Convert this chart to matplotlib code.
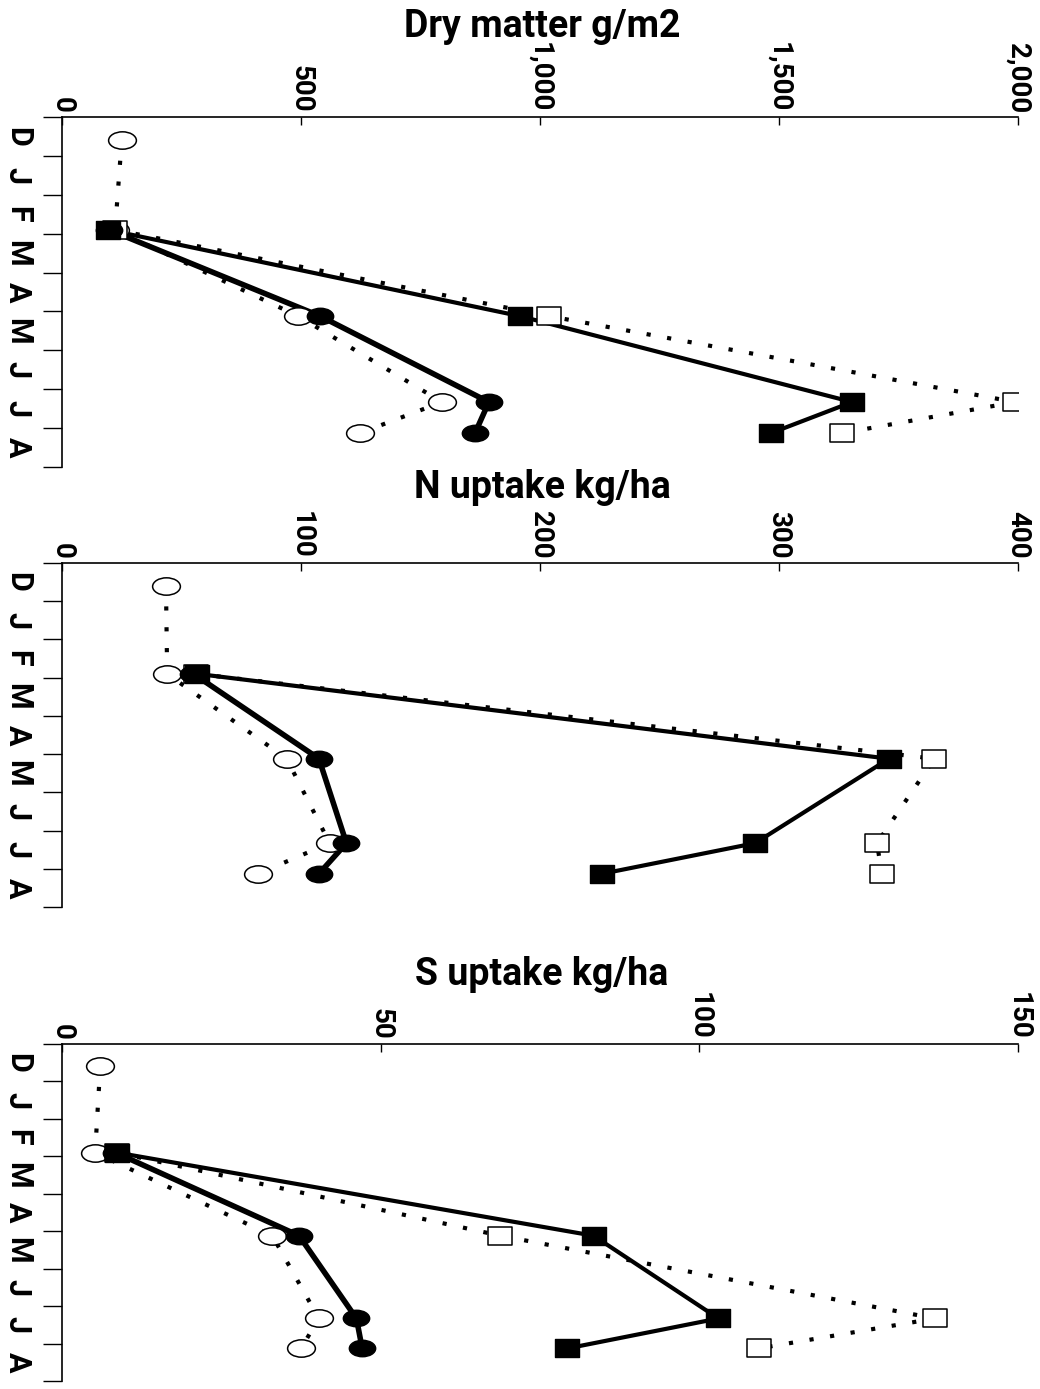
import matplotlib
matplotlib.use("Agg")
import matplotlib.pyplot as plt
from matplotlib.path import Path
from matplotlib.ticker import FixedLocator, FuncFormatter
import matplotlib.transforms as mtransforms

plt.rcParams['font.family'] = ['Roboto', 'DejaVu Sans']
plt.rcParams['font.weight'] = 'bold'

# Sampling dates, in months counted from 1 December
month_labels = ["D", "J", "F", "M", "A", "M", "J", "J", "A"]
dates_all = [0.59, 2.9, 5.12, 7.33, 8.13]   # open circles also have the December sample
dates = [2.9, 5.12, 7.33, 8.13]

# Dry matter g/m2
dm_open_circle = [125, 111, 494, 795, 623]
dm_filled_circle = [98, 540, 893, 864]
dm_filled_square = [96, 958, 1653, 1483]
dm_open_square = [111, 1019, 1994, 1632]

# N uptake kg/ha
n_open_circle = [43.5, 44, 94, 112, 82]
n_filled_circle = [55, 107.5, 119, 107.5]
n_filled_square = [56.5, 346, 290, 226]
n_open_square = [56, 365, 341, 343]

# S uptake kg/ha
s_open_circle = [6.0, 5.2, 33, 40.3, 37.5]
s_filled_circle = [8.4, 37.2, 46.2, 47.1]
s_filled_square = [8.6, 83.4, 103, 79.3]
s_open_square = [8.6, 68.8, 137, 109.3]

titles = ["Dry matter g/m2", "N uptake kg/ha", "S uptake kg/ha"]
x_max = [2000, 400, 150]
x_step = [500, 100, 50]

# flattened markers
ellipse = Path.unit_circle().transformed(mtransforms.Affine2D().scale(1.6, 1.0))
box = Path([(-1.47, -1), (1.47, -1), (1.47, 1), (-1.47, 1), (-1.47, -1)],
           [Path.MOVETO, Path.LINETO, Path.LINETO, Path.LINETO, Path.CLOSEPOLY])

dotted = (0, (1, 4))

fig = plt.figure(figsize=(10.4, 13.89), dpi=100)

# axes boxes in pixels: top, bottom
boxes = [(117, 467), (563, 907), (1044, 1381)]
title_base = [37, 498, 985]
H = 1389.0

panels = [
    (dm_open_circle, dm_filled_circle, dm_filled_square, dm_open_square),
    (n_open_circle, n_filled_circle, n_filled_square, n_open_square),
    (s_open_circle, s_filled_circle, s_filled_square, s_open_square),
]

for i, (oc, fc, fs, osq) in enumerate(panels):
    top, bottom = boxes[i]
    ax = fig.add_axes([62 / 1040, 1 - bottom / H, (1018 - 62) / 1040, (bottom - top) / H])

    # lines
    ax.plot(oc, dates_all, color='black', lw=3, linestyle=dotted, dash_capstyle='butt', zorder=2)
    ax.plot(osq, dates, color='black', lw=3, linestyle=dotted, dash_capstyle='butt', zorder=2)
    ax.plot(fs, dates, color='black', lw=3, zorder=2)
    ax.plot(fc, dates, color='black', lw=4, zorder=2)

    # markers
    ax.plot(oc, dates_all, linestyle='none', marker=ellipse, markersize=20,
            markerfacecolor='white', markeredgecolor='black', markeredgewidth=1.1, zorder=3)
    ax.plot(osq, dates, linestyle='none', marker=box, markersize=18,
            markerfacecolor='white', markeredgecolor='black', markeredgewidth=1.1, zorder=3)
    ax.plot(fc, dates, linestyle='none', marker=ellipse, markersize=19,
            markerfacecolor='black', markeredgecolor='black', zorder=4)
    ax.plot(fs, dates, linestyle='none', marker=box, markersize=18,
            markerfacecolor='black', markeredgecolor='black', zorder=5)

    ax.set_xlim(0, x_max[i])
    ax.set_ylim(9, 0)

    for side in ['right', 'bottom']:
        ax.spines[side].set_visible(False)
    ax.spines['top'].set_linewidth(1.2)
    ax.spines['left'].set_linewidth(1.2)

    # value axis along the top
    ax.xaxis.set_ticks_position('top')
    ax.xaxis.set_major_locator(FixedLocator(range(0, x_max[i] + 1, x_step[i])))
    ax.xaxis.set_major_formatter(FuncFormatter(lambda v, p: f"{v:,.0f}"))
    ax.tick_params(axis='x', direction='in', length=6, width=1, pad=3,
                   labelsize=20, labelrotation=-90)

    # month axis down the left side
    ax.yaxis.set_major_locator(FixedLocator(range(0, 10)))
    ax.yaxis.set_major_formatter(FuncFormatter(lambda v, p: ""))
    ax.yaxis.set_minor_locator(FixedLocator([m + 0.5 for m in range(9)]))
    ax.set_yticklabels(month_labels, minor=True)
    ax.tick_params(axis='y', which='major', direction='out', length=14, width=1)
    ax.tick_params(axis='y', which='minor', length=0, pad=21, labelsize=22)
    for lab in ax.get_yticklabels(minor=True):
        lab.set_rotation(-90)
        lab.set_va('center')

    fig.text(542 / 1040, 1 - title_base[i] / H, titles[i], ha='center', va='baseline',
             fontsize=27, fontweight='bold')

fig.savefig("out.png", dpi=100)
